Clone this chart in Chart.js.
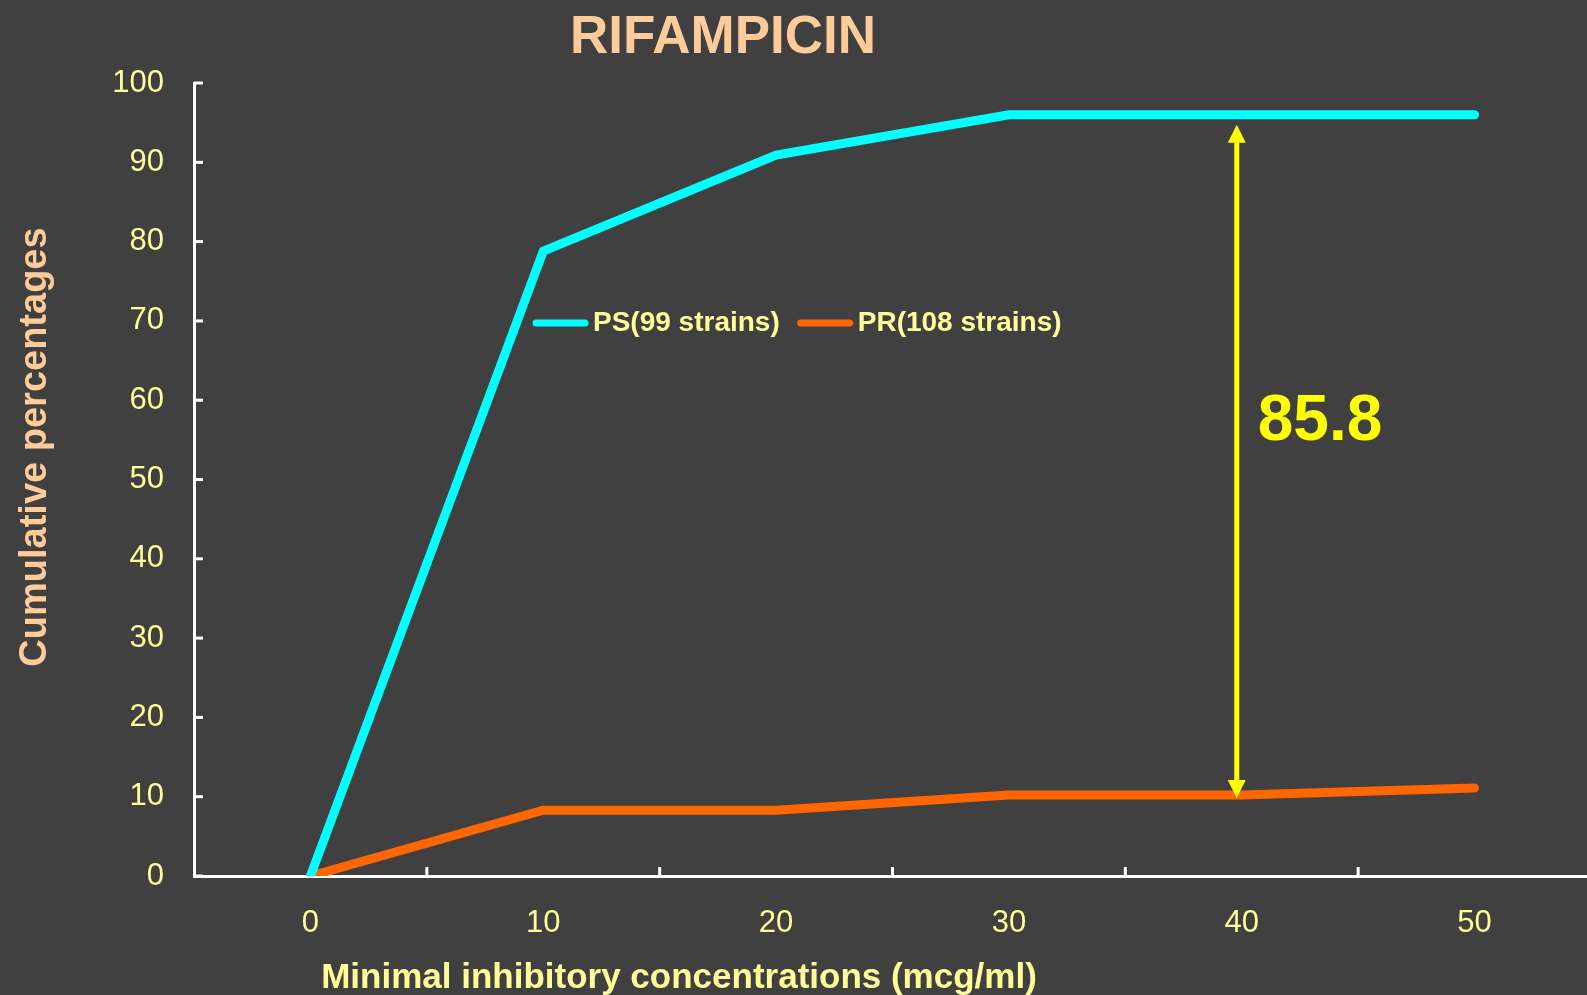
<!DOCTYPE html>
<html>
<head>
<meta charset="utf-8">
<script src="https://cdn.jsdelivr.net/npm/chart.js@4.4.1/dist/chart.umd.min.js"></script>
<style>
    html, body { margin: 0; padding: 0; background: #404040; overflow: hidden; }
    canvas { display: block; }
</style>
</head>
<body>
<canvas id="micChart" width="1591" height="995"></canvas>
<script>
const concentrations = ['0', '10', '20', '30', '40', '50'];
const psValues = [0, 78.8, 90.9, 96.0, 96.0, 96.0];
const prValues = [0, 8.3, 8.3, 10.2, 10.2, 11.1];
const seriesLabels = ['PS(99 strains)', 'PR(108 strains)'];
const seriesColors = ['#00ffff', '#ff6600'];
const arrowIndex = 4; // the '40' category

const FONT = "'Liberation Sans', Arial, sans-serif";
const PALE_YELLOW = '#ffff99';
const PEACH = '#ffcc99';

Chart.defaults.font.family = FONT;

// draws the inward tick marks, the titles, the legend and the difference arrow
const overlayPlugin = {
    id: 'overlay',
    afterDraw(chart) {
        const ctx = chart.ctx;
        const xs = chart.scales.x;
        const ys = chart.scales.y;
        const area = chart.chartArea;

        ctx.save();

        // tick marks pointing into the plot
        ctx.strokeStyle = '#ffffff';
        ctx.lineWidth = 3;
        ys.ticks.forEach(t => {
            const py = ys.getPixelForValue(t.value);
            ctx.beginPath();
            ctx.moveTo(area.left, py);
            ctx.lineTo(area.left + 9, py);
            ctx.stroke();
        });
        for (let i = 1; i < concentrations.length; i++) {
            const px = (xs.getPixelForValue(i - 1) + xs.getPixelForValue(i)) / 2;
            ctx.beginPath();
            ctx.moveTo(px, area.bottom);
            ctx.lineTo(px, area.bottom - 9);
            ctx.stroke();
        }

        // chart title
        ctx.fillStyle = PEACH;
        ctx.font = 'bold 53px ' + FONT;
        ctx.textAlign = 'center';
        ctx.textBaseline = 'alphabetic';
        ctx.fillText('RIFAMPICIN', 723, 53);

        // x axis title
        ctx.fillStyle = PALE_YELLOW;
        ctx.font = 'bold 35px ' + FONT;
        ctx.fillText('Minimal inhibitory concentrations (mcg/ml)', 679, 988);

        // y axis title
        ctx.save();
        ctx.translate(36, 447);
        ctx.rotate(-Math.PI / 2);
        ctx.fillStyle = PEACH;
        ctx.font = 'bold 38px ' + FONT;
        ctx.textBaseline = 'middle';
        ctx.fillText('Cumulative percentages', 0, 0);
        ctx.restore();

        // legend inside the plot
        let lx = 533;
        const ly = 323;
        ctx.font = 'bold 28px ' + FONT;
        ctx.textAlign = 'left';
        ctx.textBaseline = 'middle';
        chart.data.datasets.forEach(ds => {
            ctx.strokeStyle = ds.borderColor;
            ctx.lineWidth = 7;
            ctx.lineCap = 'round';
            ctx.beginPath();
            ctx.moveTo(lx + 3, ly);
            ctx.lineTo(lx + 52, ly);
            ctx.stroke();
            ctx.fillStyle = PALE_YELLOW;
            ctx.fillText(ds.label, lx + 60, ly);
            lx += 60 + ctx.measureText(ds.label).width + 18;
        });

        // double-headed arrow between the two curves at 40 mcg/ml
        const ax = xs.getPixelForValue(arrowIndex) - 5;
        const top = ys.getPixelForValue(psValues[arrowIndex]) + 10;
        const bottom = ys.getPixelForValue(prValues[arrowIndex]) + 3;
        ctx.strokeStyle = '#ffff00';
        ctx.fillStyle = '#ffff00';
        ctx.lineWidth = 5;
        ctx.lineCap = 'butt';
        ctx.beginPath();
        ctx.moveTo(ax, top + 10);
        ctx.lineTo(ax, bottom - 10);
        ctx.stroke();
        ctx.beginPath();
        ctx.moveTo(ax, top);
        ctx.lineTo(ax - 9, top + 18);
        ctx.lineTo(ax + 9, top + 18);
        ctx.closePath();
        ctx.fill();
        ctx.beginPath();
        ctx.moveTo(ax, bottom);
        ctx.lineTo(ax - 9, bottom - 18);
        ctx.lineTo(ax + 9, bottom - 18);
        ctx.closePath();
        ctx.fill();

        const diff = (psValues[arrowIndex] - prValues[arrowIndex]).toFixed(1);
        ctx.font = 'bold 64px ' + FONT;
        ctx.textBaseline = 'alphabetic';
        ctx.fillText(diff, ax + 21, ys.getPixelForValue(55));

        ctx.restore();
    }
};

new Chart(document.getElementById('micChart'), {
    type: 'line',
    data: {
        labels: concentrations,
        datasets: [{
            label: seriesLabels[0],
            data: psValues,
            borderColor: seriesColors[0],
            backgroundColor: seriesColors[0],
            borderWidth: 9,
            borderCapStyle: 'round',
            pointRadius: 0,
            tension: 0,
            fill: false
        }, {
            label: seriesLabels[1],
            data: prValues,
            borderColor: seriesColors[1],
            backgroundColor: seriesColors[1],
            borderWidth: 9,
            borderCapStyle: 'round',
            pointRadius: 0,
            tension: 0,
            fill: false
        }]
    },
    options: {
        responsive: false,
        animation: false,
        layout: { padding: { top: 83, left: 0, right: 0, bottom: 0 } },
        plugins: {
            legend: { display: false },
            title: { display: false },
            tooltip: { enabled: false }
        },
        scales: {
            x: {
                type: 'category',
                offset: true,
                grid: { display: false, drawTicks: false },
                border: { display: true, color: '#ffffff', width: 3 },
                ticks: { color: PALE_YELLOW, font: { size: 31 }, padding: 29, maxRotation: 0 },
                afterFit: scale => { scale.height = 119; }
            },
            y: {
                min: 0,
                max: 100,
                grid: { display: false, drawTicks: false },
                border: { display: true, color: '#ffffff', width: 3 },
                ticks: { stepSize: 10, color: PALE_YELLOW, font: { size: 31 }, padding: 30 },
                afterFit: scale => { scale.width = 194; }
            }
        }
    },
    plugins: [overlayPlugin]
});
</script>
</body>
</html>
